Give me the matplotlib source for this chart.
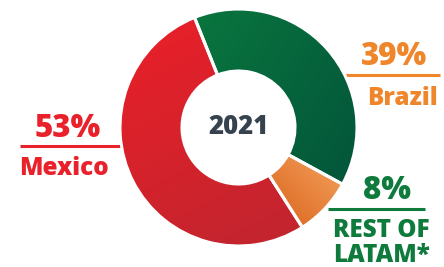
import numpy as np
import matplotlib
matplotlib.use("Agg")
import matplotlib.pyplot as plt
from matplotlib.colors import LinearSegmentedColormap

# ---- data ----
regions = ["Brazil", "REST OF\nLATAM*", "Mexico"]
shares = [39, 8, 53]
pct_labels = ["39%", "8%", "53%"]
center_label = "2021"

# ---- style ----
grad_colors = [("#0B7F3F", "#02503A"), ("#D85F18", "#F6A863"), ("#EC1F28", "#BC2630")]
text_colors = ["#F0862C", "#0E7A3C", "#E8212A"]
FONT = "Open Sans"
WT = 800

W, H = 444, 267
fig = plt.figure(figsize=(W / 100, H / 100), dpi=100)
ax = fig.add_axes([0, 0, 1, 1])

cx, cy, R = 238.5, 267 - 127.5, 118.5
wedges, _ = ax.pie(shares, startangle=111.8, counterclock=False, center=(cx, cy),
                   radius=R, colors=[c[0] for c in grad_colors],
                   wedgeprops=dict(width=62, edgecolor="none", linewidth=0))

# gradient fills clipped to each wedge
yy, xx = np.mgrid[0:1:200j, 0:1:200j]
dirs = [(1.0, -0.6), (1.0, 1.0), (0.5, -1.0)]  # gradient direction (x, y up)
extents = [[cx - R, cx + R, cy - R, cy + R],
           [cx + 26, cx + 110, cy - 104, cy - 22],
           [cx - R, cx + R, cy - R, cy + R]]
for w, (c0, c1), (dx, dy), ext in zip(wedges, grad_colors, dirs, extents):
    cmap = LinearSegmentedColormap.from_list("g", [c0, c1])
    g = xx * dx + yy * dy
    g = (g - g.min()) / (g.max() - g.min())
    im = ax.imshow(g, cmap=cmap, origin="lower", extent=ext, zorder=2, interpolation="bilinear")
    im.set_clip_path(w)
    w.set_zorder(3)
    w.set_facecolor("none")
    w.set_edgecolor("white")
    w.set_linewidth(2.2)

ax.text(cx, cy, center_label, ha="center", va="center", fontsize=18.5, fontweight=WT,
        color="#37424F", family=FONT)

PCT_FS, NAME_FS = 22.5, 17.5

# Brazil
ax.text(394.5, 267 - 65, pct_labels[0], ha="center", va="baseline", fontsize=PCT_FS,
        fontweight=WT, color=text_colors[0], family=FONT)
ax.plot([345, 440], [267 - 75, 267 - 75], color=text_colors[0], lw=2.2, solid_capstyle="butt")
ax.text(402, 267 - 105, regions[0], ha="center", va="baseline", fontsize=NAME_FS,
        fontweight=WT, color=text_colors[0], family=FONT)

# Rest of LATAM
ax.text(386.5, 267 - 199, pct_labels[1], ha="center", va="baseline", fontsize=PCT_FS,
        fontweight=WT, color=text_colors[1], family=FONT)
ax.plot([328, 425], [267 - 209, 267 - 209], color=text_colors[1], lw=2.2, solid_capstyle="butt")
for i, line in enumerate(regions[1].split("\n")):
    ax.text(333, 267 - 237 - 25.5 * i, line, ha="left", va="baseline", fontsize=NAME_FS,
            fontweight=WT, color=text_colors[1], family=FONT)

# Mexico
ax.text(67.5, 267 - 137, pct_labels[2], ha="center", va="baseline", fontsize=PCT_FS,
        fontweight=WT, color=text_colors[2], family=FONT)
ax.plot([20, 122], [267 - 145.7, 267 - 145.7], color=text_colors[2], lw=2.2, solid_capstyle="butt")
ax.text(64, 267 - 175, regions[2], ha="center", va="baseline", fontsize=NAME_FS,
        fontweight=WT, color=text_colors[2], family=FONT)

ax.set_xlim(0, W)
ax.set_ylim(0, H)
ax.set_aspect("auto")
ax.axis("off")
fig.savefig("out.png", dpi=100)
